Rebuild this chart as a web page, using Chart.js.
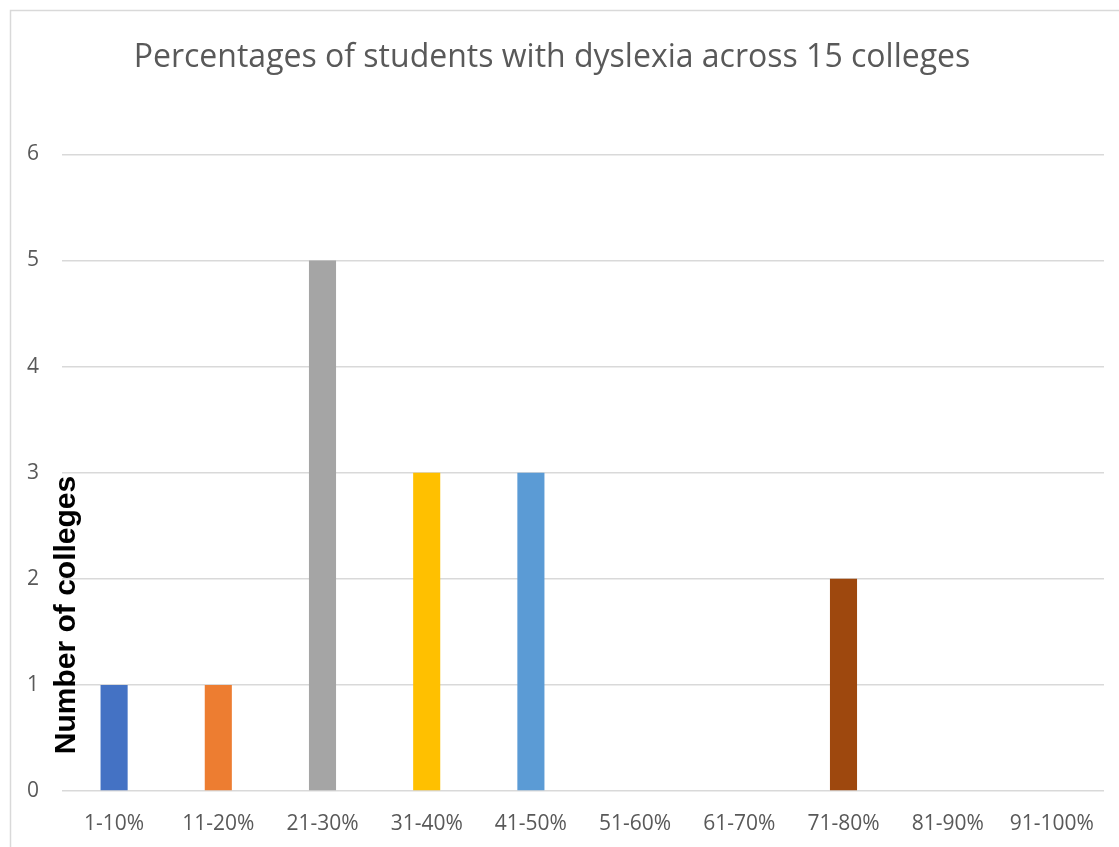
<!DOCTYPE html>
<html>
<head>
<meta charset="utf-8">
<script src="https://cdn.jsdelivr.net/npm/chart.js@4"></script>
<style>
  html, body { margin: 0; padding: 0; background: #fff; }
  #wrap { width: 1119px; height: 847px; }
</style>
</head>
<body>
<div id="wrap"><canvas id="chart"></canvas></div>
<script>
const categories = ["1-10%", "11-20%", "21-30%", "31-40%", "41-50%", "51-60%", "61-70%", "71-80%", "81-90%", "91-100%"];
const collegeCounts = [1, 1, 5, 3, 3, 0, 0, 2, 0, 0];
const barColors = ["#4472C4", "#ED7D31", "#A5A5A5", "#FFC000", "#5B9BD5", "#70AD47", "#264478", "#9E480E", "#636363", "#997300"];
const yTicks = [0, 1, 2, 3, 4, 5, 6];

const GREY_TEXT = "#595959";
const GRID = "#d9d9d9";

// frame around the whole chart
const framePlugin = {
  id: "frame",
  beforeDraw(chart) {
    const ctx = chart.ctx;
    ctx.save();
    ctx.strokeStyle = GRID;
    ctx.lineWidth = 1.5;
    ctx.strokeRect(10.5, 10.5, chart.width + 20, chart.height + 20);
    ctx.restore();
  }
};

// axis title sits inside the plot, lower than centre
const yTitlePlugin = {
  id: "yTitle",
  afterDraw(chart) {
    const ctx = chart.ctx;
    const area = chart.chartArea;
    ctx.save();
    ctx.translate(area.left + 5, area.bottom - 176);
    ctx.rotate(-Math.PI / 2);
    ctx.font = "bold 30px 'Liberation Sans', Arial, sans-serif";
    ctx.fillStyle = "#000";
    ctx.textAlign = "center";
    ctx.textBaseline = "middle";
    ctx.fillText("Number of colleges", 0, 0);
    ctx.restore();
  }
};

new Chart(document.getElementById("chart"), {
  type: "bar",
  data: {
    labels: categories,
    datasets: [{
      data: collegeCounts,
      backgroundColor: barColors,
      borderWidth: 0,
      barPercentage: 0.52,
      categoryPercentage: 0.5
    }]
  },
  options: {
    responsive: true,
    maintainAspectRatio: false,
    animation: false,
    layout: { padding: { left: 0, right: 15, top: 0, bottom: 0 } },
    plugins: {
      legend: { display: false },
      tooltip: { enabled: false },
      title: {
        display: true,
        text: "Percentages of students with dyslexia across 15 colleges",
        color: GREY_TEXT,
        font: { family: "'Open Sans', sans-serif", size: 32, weight: "normal" },
        padding: { top: 39, bottom: 77 }
      }
    },
    scales: {
      x: {
        grid: { display: false },
        border: { display: false },
        ticks: {
          color: GREY_TEXT,
          font: { family: "'Open Sans', sans-serif", size: 21 },
          padding: 12,
          maxRotation: 0
        },
        afterFit(scale) { scale.height = 56; }
      },
      y: {
        min: 0,
        max: 6,
        afterBuildTicks(scale) { scale.ticks = yTicks.map(v => ({ value: v })); },
        grid: { color: GRID, lineWidth: 1.5, drawTicks: false },
        border: { display: false },
        ticks: {
          color: GREY_TEXT,
          font: { family: "'Open Sans', sans-serif", size: 21 },
          padding: 23
        },
        afterFit(scale) { scale.width = 62; }
      }
    }
  },
  plugins: [framePlugin, yTitlePlugin]
});
</script>
</body>
</html>
